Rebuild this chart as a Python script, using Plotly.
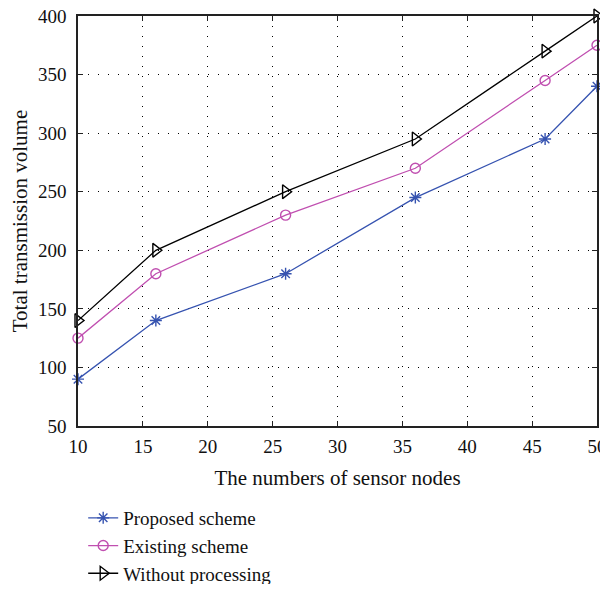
import plotly.graph_objects as go

nodes = [10, 16, 26, 36, 46, 50]
proposed = [90, 140, 180, 245, 295, 340]
existing = [125, 180, 230, 270, 345, 375]
without = [140, 200, 250, 295, 370, 400]

series = [
    ("Proposed scheme", proposed, "#3653b0", "asterisk-open", 10),
    ("Existing scheme", existing, "#c04fb0", "circle-open", 10),
    ("Without processing", without, "#000000", "triangle-right-open", 12),
]

fig = go.Figure()
for name, vals, color, sym, sz in series:
    fig.add_trace(go.Scatter(
        x=nodes, y=vals, name=name, mode="lines+markers",
        line=dict(color=color, width=1.3),
        marker=dict(symbol=sym, size=sz, color=color, line=dict(color=color, width=1.4)),
        cliponaxis=False,
    ))

FAM = "Liberation Serif"
tickfont = dict(family=FAM, size=19, color="#111111")
titlefont = dict(family=FAM, size=21, color="#111111")
axis_common = dict(
    showline=True, linecolor="#222222", linewidth=1.5, mirror="ticks",
    ticks="inside", ticklen=5, tickcolor="#222222",
    showgrid=True, gridcolor="#000000", gridwidth=1, griddash="1px,9px",
    zeroline=False, tickfont=tickfont, automargin=False,
    ticklabeloverflow="allow",
)

# page body has an 8px default margin; figure sized/margined to compensate
fig.update_layout(
    width=600, height=576,
    margin=dict(l=70, r=11, t=8, b=158, autoexpand=False),
    paper_bgcolor="white", plot_bgcolor="white",
    font=tickfont,
    xaxis=dict(range=[10, 50], tickvals=[10, 15, 20, 25, 30, 35, 40, 45, 50],
               ticklabelstandoff=2,
               title=dict(text="The numbers of sensor nodes", font=titlefont, standoff=15),
               **axis_common),
    yaxis=dict(range=[50, 400], tickvals=[50, 100, 150, 200, 250, 300, 350, 400],
               ticklabelstandoff=6,
               title=dict(text="Total transmission volume", font=titlefont, standoff=9),
               **axis_common),
    legend=dict(x=0.01, xanchor="left",
                y=-(499 - 426) / 410, yanchor="top",
                font=dict(family=FAM, size=19, color="#111111"),
                bgcolor="rgba(0,0,0,0)", tracegroupgap=0, itemwidth=30),
    showlegend=True,
)

fig.write_html("out.html")
